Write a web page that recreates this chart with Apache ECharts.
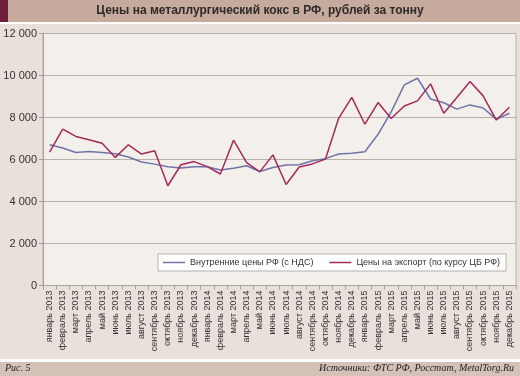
<!DOCTYPE html>
<html>
<head>
<meta charset="utf-8">
<script src="https://cdn.jsdelivr.net/npm/echarts@6/dist/echarts.min.js"></script>
<style>
  html, body { margin: 0; padding: 0; background: #e9e0db; }
  #chart { width: 520px; height: 376px; }
</style>
</head>
<body>
<div id="chart"></div>
<script>
// месяцы
const months = [
  'январь 2013', 'февраль 2013', 'март 2013', 'апрель 2013', 'май 2013', 'июнь 2013',
  'июль 2013', 'август 2013', 'сентябрь 2013', 'октябрь 2013', 'ноябрь 2013', 'декабрь 2013',
  'январь 2014', 'февраль 2014', 'март 2014', 'апрель 2014', 'май 2014', 'июнь 2014',
  'июль 2014', 'август 2014', 'сентябрь 2014', 'октябрь 2014', 'ноябрь 2014', 'декабрь 2014',
  'январь 2015', 'февраль 2015', 'март 2015', 'апрель 2015', 'май 2015', 'июнь 2015',
  'июль 2015', 'август 2015', 'сентябрь 2015', 'октябрь 2015', 'ноябрь 2015', 'декабрь 2015'
]
const domesticName = 'Внутренние цены РФ (с НДС)'
const domestic = [
  6700, 6550, 6330, 6380, 6330, 6270, 6120, 5880, 5780, 5650, 5600, 5650,
  5650, 5500, 5580, 5700, 5430, 5620, 5740, 5750, 5940, 6040, 6260, 6300,
  6370, 7200, 8270, 9550, 9870, 8880, 8700, 8400, 8600, 8450, 7910, 8200
]
const exportName = 'Цены на экспорт (по курсу ЦБ РФ)'
const exportPrices = [
  6350, 7450, 7100, 6940, 6770, 6100, 6700, 6260, 6420, 4750, 5750, 5900,
  5660, 5310, 6920, 5850, 5410, 6220, 4810, 5640, 5790, 6020, 7960, 8960,
  7680, 8710, 7950, 8550, 8790, 9600, 8200, 8950, 9710, 9030, 7880, 8490
]
const yTicks = [0, 2000, 4000, 6000, 8000, 10000, 12000]

let myChart = echarts.init(document.getElementById('chart'))

myChart.setOption({
  animation: false,
  backgroundColor: '#e9e0db',
  textStyle: { fontFamily: 'Liberation Sans' },
  graphic: [
    // шапка
    { type: 'rect', left: 0, top: 0, shape: { width: 520, height: 22 }, style: { fill: '#c6aa9e' }, z: -1 },
    { type: 'rect', left: 0, top: 0, shape: { width: 8, height: 22 }, style: { fill: '#6d1f3c' }, z: -1 },
    { type: 'rect', left: 0, top: 22, shape: { width: 520, height: 2 }, style: { fill: '#ffffff' }, z: -1 },
    {
      type: 'text', left: 'center', top: 5,
      style: {
        text: 'Цены на металлургический кокс в РФ, рублей за тонну',
        font: 'bold 12px "Liberation Sans"', fill: '#2e2a28'
      }
    },
    // подвал
    { type: 'rect', left: 0, top: 359, shape: { width: 520, height: 3 }, style: { fill: '#ffffff' }, z: -1 },
    { type: 'rect', left: 0, top: 362, shape: { width: 520, height: 14 }, style: { fill: '#d4c2b8' }, z: -1 },
    {
      type: 'text', left: 5, top: 363,
      style: { text: 'Рис. 5', font: 'italic 10px "Liberation Serif"', fill: '#222' }
    },
    {
      type: 'text', right: 6, top: 363,
      style: { text: 'Источники: ФТС РФ, Росстат, MetalTorg.Ru', font: 'italic 10px "Liberation Serif"', fill: '#222' }
    }
  ],
  legend: {
    data: [domesticName, exportName],
    left: 158,
    top: 254,
    width: 360,
    padding: [4, 6, 4, 5],
    backgroundColor: '#ffffff',
    borderColor: '#b8b0aa',
    borderWidth: 1,
    borderRadius: 0,
    icon: 'path://M0,0 L22,0 L22,1.5 L0,1.5 Z',
    itemWidth: 22,
    itemHeight: 12,
    itemGap: 16,
    textStyle: { color: '#333', fontSize: 9, fontFamily: 'Liberation Sans' }
  },
  grid: {
    left: 43,
    right: 4,
    top: 33.5,
    bottom: 90.5,
    show: true,
    backgroundColor: '#f3efeb',
    borderColor: '#b8b0aa',
    borderWidth: 1
  },
  xAxis: {
    type: 'category',
    data: months,
    boundaryGap: true,
    axisLine: { lineStyle: { color: '#a8a09a' } },
    axisTick: { show: true, length: 4, interval: 0, lineStyle: { color: '#a8a09a' } },
    axisLabel: {
      interval: 0,
      rotate: 90,
      margin: 5,
      color: '#333',
      fontSize: 9,
      fontFamily: 'Liberation Sans'
    },
    splitLine: { show: false }
  },
  yAxis: {
    type: 'value',
    min: yTicks[0],
    max: yTicks[yTicks.length - 1],
    interval: 2000,
    axisLine: { show: true, lineStyle: { color: '#a8a09a' } },
    axisTick: { show: true, length: 4, lineStyle: { color: '#a8a09a' } },
    axisLabel: {
      color: '#333',
      fontSize: 11,
      margin: 6,
      fontFamily: 'Liberation Sans',
      formatter: function(v) {
        return String(v).replace(/\B(?=(\d{3})+(?!\d))/g, ' ')
      }
    },
    splitLine: { show: true, lineStyle: { color: '#b8b0aa', width: 1 } }
  },
  series: [
    {
      name: domesticName,
      type: 'line',
      data: domestic,
      symbol: 'none',
      lineStyle: { color: '#7073a8', width: 1.5 },
      itemStyle: { color: '#7073a8' }
    },
    {
      name: exportName,
      type: 'line',
      data: exportPrices,
      symbol: 'none',
      lineStyle: { color: '#a3295e', width: 1.5 },
      itemStyle: { color: '#a3295e' }
    }
  ]
})
</script>
</body>
</html>
